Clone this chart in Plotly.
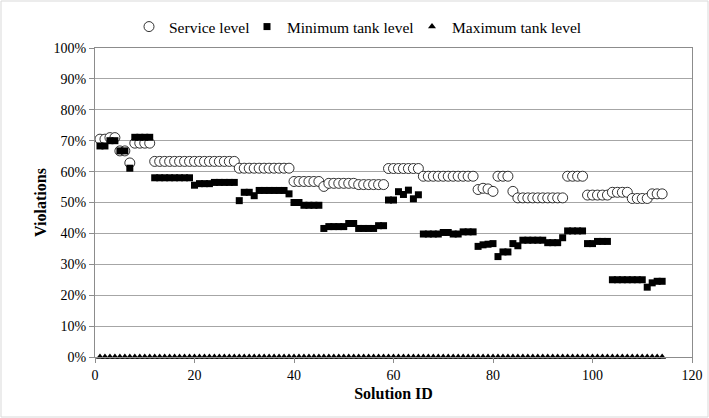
import plotly.graph_objects as go

solution_id = list(range(1, 115))

service_level = (
    [70.5, 70.5, 71, 71, 66.7, 66.7, 62.8, 69.2, 69.2, 69.2, 69.2]
    + [63.3] * 17
    + [61.1] * 11
    + [56.8] * 6
    + [55.2]
    + [56.2] * 6
    + [55.8] * 6
    + [61.0] * 7
    + [58.5] * 11
    + [54.2, 54.6, 54.4, 53.6]
    + [58.5] * 3
    + [53.6]
    + [51.5] * 10
    + [58.5] * 4
    + [52.4] * 5
    + [53.3] * 4
    + [51.3] * 4
    + [52.8] * 3
)

min_tank_level = (
    [68.3, 68.3, 70, 70, 66.7, 66.7, 61.1]
    + [71.1] * 4
    + [58.0] * 8
    + [55.6]
    + [56.1] * 3
    + [56.5] * 5
    + [50.6, 53.3, 53.3, 52.2]
    + [53.9] * 6
    + [52.8, 50.0, 50.0]
    + [49.1] * 4
    + [41.6]
    + [42.2] * 4
    + [43.2] * 2
    + [41.6] * 4
    + [42.5] * 2
    + [50.8, 50.8, 53.5, 52.6, 54.0, 51.2, 52.5]
    + [39.8] * 4
    + [40.3] * 2
    + [39.8] * 2
    + [40.5] * 3
    + [35.8, 36.3, 36.5, 36.7, 32.5, 34.0, 34.0, 36.7, 36.0]
    + [37.8] * 5
    + [37.0] * 3
    + [38.6]
    + [40.8] * 4
    + [36.7, 36.7]
    + [37.4] * 3
    + [25.0] * 7
    + [22.6, 24.0, 24.5, 24.5]
)

max_tank_level = [0.0] * 114

y_ticks = [i / 10 for i in range(0, 11)]
y_tick_labels = [f"{i * 10}%" for i in range(0, 11)]

FONT = "Liberation Serif"

fig = go.Figure()
fig.add_trace(go.Scatter(
    x=solution_id, y=[v / 100 for v in service_level], mode="markers",
    name="Service level", legend="legend",
    marker=dict(symbol="circle", size=10, color="white",
                line=dict(color="black", width=0.8)),
    cliponaxis=False,
))
fig.add_trace(go.Scatter(
    x=solution_id, y=[v / 100 for v in min_tank_level], mode="markers",
    name="Minimum tank level", legend="legend2",
    marker=dict(symbol="square", size=7, color="black"),
    cliponaxis=False,
))
fig.add_trace(go.Scatter(
    x=solution_id, y=max_tank_level, mode="markers",
    name="Maximum tank level", legend="legend3",
    marker=dict(symbol="triangle-up", size=7, color="black"),
    cliponaxis=False,
))

L, R, T, B = 95, 17, 48, 61
W, H = 709, 418
pw, ph = W - L - R, H - T - B
LEG_Y = (H - B - 27) / ph


def leg(px):
    return dict(orientation="h", x=(px - L) / pw, xanchor="left",
                y=LEG_Y, yanchor="middle", font=dict(family=FONT, size=15.5),
                itemwidth=30, bgcolor="rgba(0,0,0,0)")


fig.update_layout(
    width=W, height=H,
    margin=dict(l=L, r=R, t=T, b=B, autoexpand=False),
    paper_bgcolor="white", plot_bgcolor="white",
    font=dict(family=FONT, size=14, color="black"),
    legend=leg(129), legend2=leg(247), legend3=leg(412),
    showlegend=True,
    xaxis=dict(range=[0, 120], dtick=20, tick0=0, showgrid=False, automargin=False,
               showline=True, linecolor="#8c8c8c", linewidth=1, mirror=True,
               ticks="outside", ticklen=5, tickcolor="#8c8c8c",
               zeroline=False,
               title=dict(text="<b>Solution ID</b>", font=dict(family=FONT, size=16), standoff=6),
               tickfont=dict(family=FONT, size=14)),
    yaxis=dict(range=[0, 1], tickvals=y_ticks, ticktext=y_tick_labels, automargin=False,
               showgrid=True, gridcolor="#a6a6a6", gridwidth=1,
               showline=True, linecolor="#8c8c8c", linewidth=1, mirror=True,
               ticks="outside", ticklen=5, tickcolor="#8c8c8c",
               zeroline=False,
               title=dict(text="<b>Violations</b>", font=dict(family=FONT, size=16), standoff=2),
               tickfont=dict(family=FONT, size=14)),
    shapes=[dict(type="rect", xref="paper", yref="paper", layer="below",
                 x0=(1 - L) / pw, x1=(W - 1 - L) / pw,
                 y0=(H - B - (H - 1)) / ph, y1=(H - B - 1) / ph,
                 line=dict(color="#d9d9d9", width=1), fillcolor="rgba(0,0,0,0)")],
)

fig.write_html("out.html", config={"displayModeBar": False},
               post_script="document.body.style.margin='0';document.body.style.overflow='hidden';")
